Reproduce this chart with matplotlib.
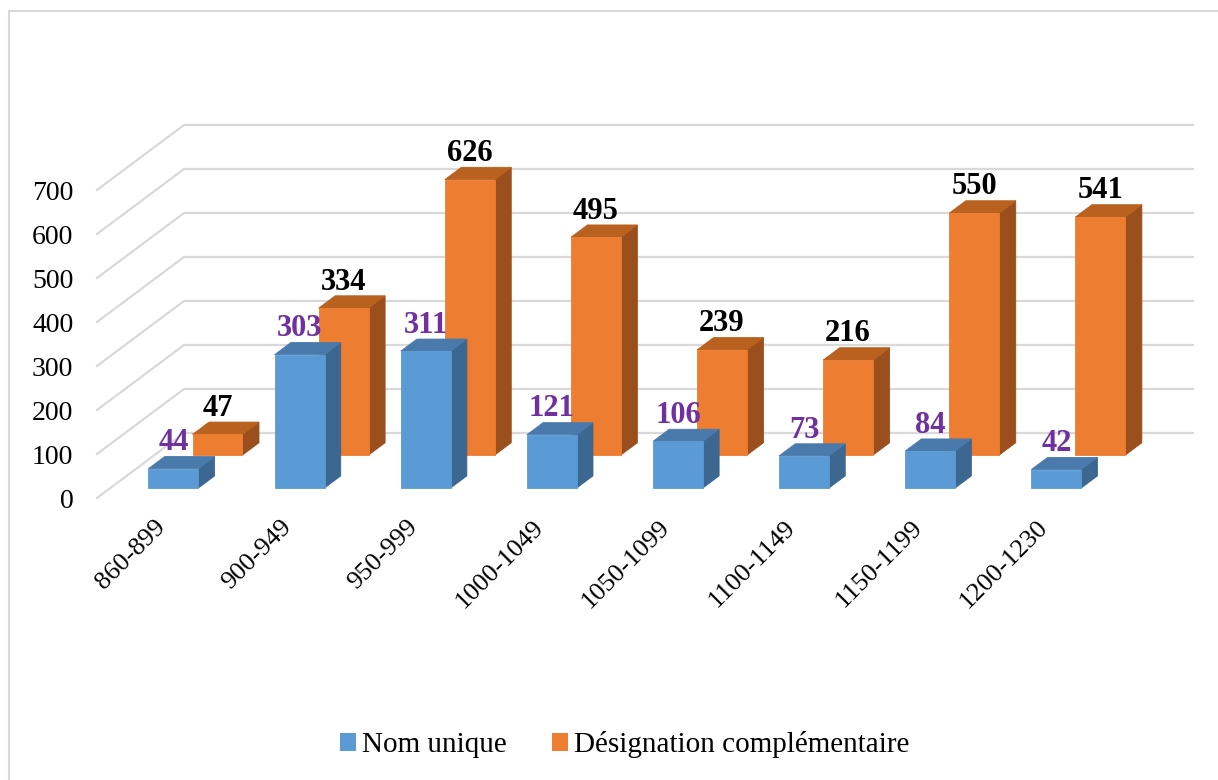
import matplotlib.pyplot as plt
from matplotlib.patches import Polygon, Patch, Rectangle
from matplotlib.transforms import ScaledTranslation

plt.rcParams['font.family'] = ['Liberation Serif', 'DejaVu Serif']

# data
periods = ['860-899', '900-949', '950-999', '1000-1049',
           '1050-1099', '1100-1149', '1150-1199', '1200-1230']
nom_unique = [44, 303, 311, 121, 106, 73, 84, 42]
designation = [47, 334, 626, 495, 239, 216, 550, 541]
y_ticks = [0, 100, 200, 300, 400, 500, 600, 700]
series_names = ['Nom unique', 'Désignation complémentaire']

W, H = 1218, 780
fig = plt.figure(figsize=(W / 100, H / 100), dpi=100)
ax = fig.add_axes([97 / W, (H - 498) / H, 1009 / W, 308 / H])
n = len(periods)
ax.set_xlim(-0.5, n - 0.5)
ax.set_ylim(0, 700)

# oblique projection of the depth axis (0 = front edge, 1 = back wall)
DX = 87 / (1009 / n)
DY = 65 / (308 / 700)


def proj(x, d, v):
    return (x + d * DX, v + d * DY)


def bar3d(ax, x, v, d0, d1, width, colors, z):
    xl, xr = x - width / 2, x + width / 2
    front = [proj(xl, d0, 0), proj(xr, d0, 0), proj(xr, d0, v), proj(xl, d0, v)]
    top = [proj(xl, d0, v), proj(xr, d0, v), proj(xr, d1, v), proj(xl, d1, v)]
    side = [proj(xr, d0, 0), proj(xr, d1, 0), proj(xr, d1, v), proj(xr, d0, v)]
    for pts, c in zip([side, top, front], colors):
        ax.add_patch(Polygon(pts, closed=True, facecolor=c, edgecolor=c,
                             lw=0.6, clip_on=False, zorder=z))


# walls: gridlines on the left side wall and back wall
for v in y_ticks:
    pts = [proj(-0.5, 0, v), proj(-0.5, 1, v), proj(n - 0.5, 1, v)]
    ax.plot([p[0] for p in pts], [p[1] for p in pts], color='#D9D9D9',
            lw=1.6, clip_on=False, zorder=1)

blue = ['#3B6790', '#4A7AAB', '#5B9BD5']
orange = ['#9A4F1D', '#B9611F', '#ED7D31']
width = 0.396

# back row first, then front row
for i, v in enumerate(designation):
    bar3d(ax, i, v, 0.66, 0.85, width, orange, 2)
    ax.annotate(str(v), xy=(i + 0.66 * DX, v + 0.85 * DY), xytext=(0, 4.5),
                textcoords='offset points', ha='center', va='baseline',
                fontsize=22, fontweight='bold', color='black', zorder=5,
                annotation_clip=False)
for i, v in enumerate(nom_unique):
    bar3d(ax, i, v, 0.154, 0.34, width, blue, 3)
    ax.annotate(str(v), xy=(i + 0.154 * DX, v + 0.34 * DY), xytext=(0, 4.5),
                textcoords='offset points', ha='center', va='baseline',
                fontsize=22, fontweight='bold', color='#7030A0', zorder=5,
                annotation_clip=False)

ax.set_xticks(range(n))
ax.set_xticklabels(periods, rotation=45, ha='right', rotation_mode='anchor',
                   fontsize=19)
ax.set_yticks(y_ticks)
ax.set_yticklabels([str(t) for t in y_ticks], fontsize=20)
ax.tick_params(axis='x', length=0, pad=13)
ax.tick_params(axis='y', length=0, pad=17)
shift = ScaledTranslation(-0.06, 0, fig.dpi_scale_trans)
for lab in ax.get_xticklabels():
    lab.set_transform(lab.get_transform() + shift)
for s in ax.spines.values():
    s.set_visible(False)
ax.patch.set_visible(False)

handles = [Patch(facecolor=blue[2], edgecolor='none'),
           Patch(facecolor=orange[2], edgecolor='none')]
fig.legend(handles, series_names, loc='center', bbox_to_anchor=(0.513, 1 - 745 / H),
           ncol=2, frameon=False, fontsize=21, handlelength=0.55,
           handleheight=0.55, handletextpad=0.2, columnspacing=1.55)

# chart area border (only left and top edges are in frame)
fig.add_artist(Rectangle((9 / W, -0.1), 1.2, 1.1 - 11 / H, fill=False,
                         edgecolor='#D9D9D9', lw=1.5,
                         transform=fig.transFigure))

fig.savefig('out.png', dpi=100)
